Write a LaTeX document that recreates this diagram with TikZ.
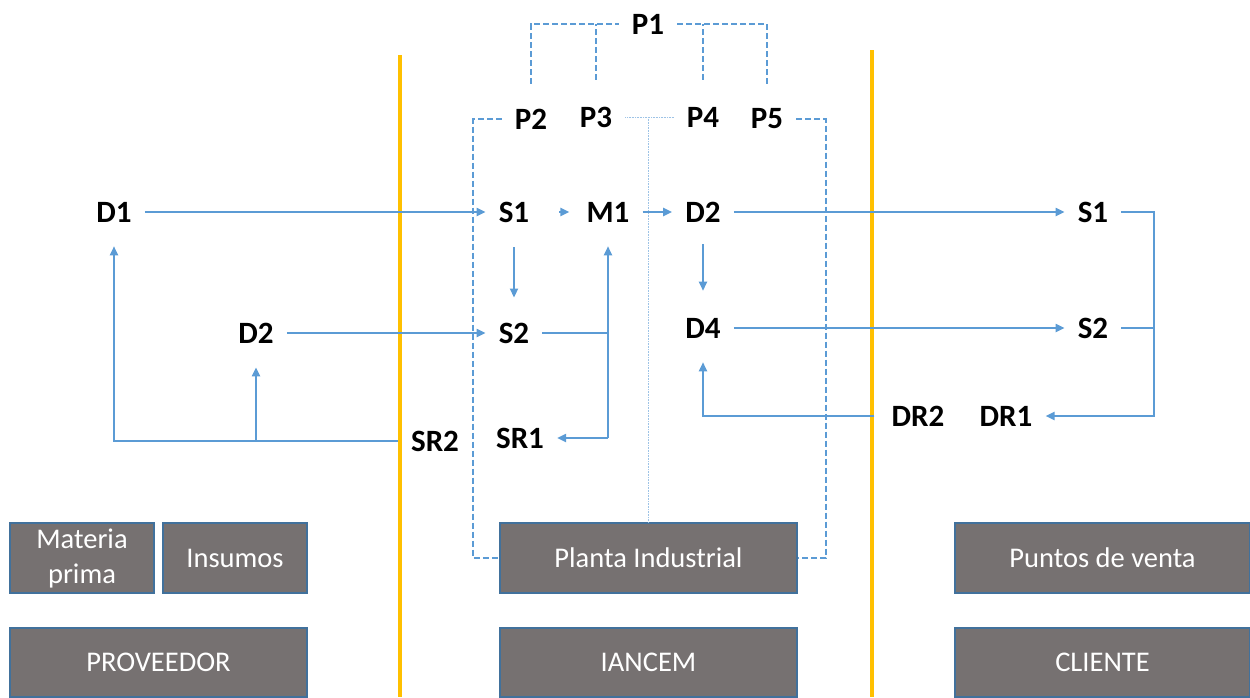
\documentclass[tikz,border=0pt]{standalone}
\usepackage{fontspec}
\setmainfont{Carlito}
\usetikzlibrary{arrows.meta,calc}
\definecolor{lblue}{HTML}{5B9BD5}
\definecolor{gold}{HTML}{FFC000}
\definecolor{gfill}{HTML}{767171}
\definecolor{gedge}{HTML}{41719C}
\definecolor{pblue}{HTML}{9DC3E6}
\tikzset{
  lbl/.style={font=\fontsize{31}{34}\selectfont\bfseries, inner xsep=13pt, inner ysep=1pt},
  flow/.style={draw=lblue, line width=2pt, -{Triangle[length=9pt,width=8pt]}},
  plainline/.style={draw=lblue, line width=2pt},
  dashline/.style={draw=lblue, line width=2pt, dash pattern=on 6pt off 3pt},
  thinline/.style={draw=pblue, line width=1pt, dash pattern=on 1pt off 0.6pt},
  gbox/.style={fill=gfill, draw=gedge, line width=1.5pt, text=white, font=\fontsize{28.5}{35}\selectfont, align=center, inner sep=0pt},
  border/.style={draw=gold, line width=4pt}
}
\begin{document}
\begin{tikzpicture}[x=1pt,y=-1pt]
\useasboundingbox (0,0) rectangle (1250,697);
% column borders
\draw[border] (400,55) -- (400,697);
\draw[border] (872,50) -- (872,697);
% labels
\node[lbl] (p1) at (648,24) {P1};
\node[lbl] (p2) at (531,119) {P2};
\node[lbl] (p3) at (596,117) {P3};
\node[lbl] (p4) at (703,117) {P4};
\node[lbl] (p5) at (767,119) {P5};
\node[lbl] (d1) at (114,212) {D1};
\node[lbl] (s1) at (514,212) {S1};
\node[lbl] (m1) at (608,212) {M1};
\node[lbl] (d2) at (703,212) {D2};
\node[lbl] (cs1) at (1093,212) {S1};
\node[lbl] (pd2) at (256,333) {D2};
\node[lbl] (s2) at (514,333) {S2};
\node[lbl] (d4) at (703,328) {D4};
\node[lbl] (cs2) at (1093,328) {S2};
\node[lbl] (sr2) at (435,441) {SR2};
\node[lbl] (sr1) at (520,438) {SR1};
\node[lbl] (dr2) at (918,416) {DR2};
\node[lbl] (dr1) at (1006,416) {DR1};
% boxes
\node[gbox, minimum width=144, minimum height=70] (mp) at (82,558) {Materia\\prima};
\node[gbox, minimum width=144, minimum height=70] (ins) at (235,558) {Insumos};
\node[gbox, minimum width=297, minimum height=69] (prov) at (158.5,662.5) {PROVEEDOR};
\node[gbox, minimum width=297, minimum height=70] (planta) at (648.5,558) {Planta Industrial};
\node[gbox, minimum width=297, minimum height=69] (iancem) at (648.5,662.5) {IANCEM};
\node[gbox, minimum width=295, minimum height=70] (pv) at (1102.5,558) {Puntos de venta};
\node[gbox, minimum width=295, minimum height=69] (cli) at (1102.5,662.5) {CLIENTE};
% dashed hierarchy
\draw[dashline] ([yshift=24pt]p2.north) -- (p2 |- p1) -- (p1.west);
\draw[dashline] ([yshift=26pt]p3.north) -- (p3 |- p1);
\draw[dashline] (p1.east) -- (p5 |- p1) -- ([yshift=24pt]p5.north);
\draw[dashline] ([yshift=26pt]p4.north) -- (p4 |- p1);
\draw[dashline] (p2.west) -| ([xshift=-26pt]planta.west) -- (planta.west);
\draw[dashline] (p5.east) -| ([xshift=28pt]planta.east) -- (planta.east);
\draw[thinline] (p3.east) -- (p4.west);
\draw[thinline] (planta.north |- p3) -- (planta.north);
% flows
\draw[flow] (d1.east) -- (s1.west);
\draw[flow] ([xshift=-14pt]m1.west) -- ([xshift=-4pt]m1.west);
\draw[flow] (m1.east) -- (d2.west);
\draw[flow] (d2.east) -- (cs1.west);
\draw[flow] (pd2.east) -- (s2.west);
\draw[flow] (d4.east) -- (cs2.west);
\draw[flow] ([yshift=-24pt]s1.south) -- ([yshift=24pt]s2.north);
\draw[flow] ([yshift=-21pt]d2.south) -- ([yshift=26pt]d4.north);
\draw[plainline] (s2.east) -- (m1 |- s2.east);
\draw[flow] (m1 |- sr1) -- ([yshift=-23pt]m1.south);
\draw[flow] (m1 |- sr1) -- (sr1.east);
\coordinate (rj) at ([xshift=33pt]cs1.east);
\draw[flow] (cs1.east) -- (rj) |- (dr1.east);
\draw[plainline] (cs2.east) -- (rj |- cs2.east);
\draw[flow] ([xshift=-4pt]dr2.west) -| ([yshift=-23pt]d4.south);
\draw[flow] (sr2.west) -| ([yshift=-23pt]d1.south);
\draw[flow] (pd2 |- sr2.west) -- ([yshift=-23pt]pd2.south);
\end{tikzpicture}
\end{document}
